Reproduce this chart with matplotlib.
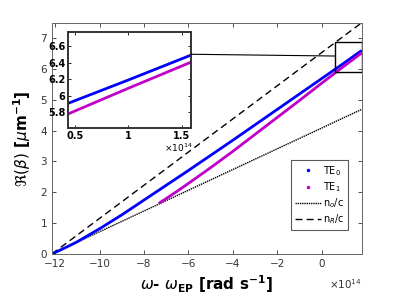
import matplotlib
matplotlib.use("Agg")
import matplotlib.pyplot as plt
from matplotlib.lines import Line2D
from matplotlib.patches import Rectangle, ConnectionPatch

# x in units of 1e14 rad/s, y in 1/um
te0_x = [-12.15, -11.5, -11.0, -10.0, -9.0, -8.0, -7.0, -6.0, -5.0, -4.0, -3.0, -2.0, -1.0, 0.0, 1.0, 1.8]
te0_y = [0.0, 0.22, 0.40, 0.82, 1.27, 1.75, 2.23, 2.71, 3.20, 3.69, 4.19, 4.69, 5.19, 5.69, 6.19, 6.60]
te1_x = [-7.34, -7.0, -6.5, -6.0, -5.0, -4.0, -3.0, -2.0, -1.0, 0.0, 1.0, 1.8]
te1_y = [1.64, 1.80, 2.04, 2.29, 2.80, 3.33, 3.88, 4.43, 4.98, 5.54, 6.09, 6.52]
no_x = [-12.15, 1.8]
no_y = [0.0, 4.69]
nr_x = [-12.15, 1.8]
nr_y = [0.0, 7.5]

xticks = [-12, -10, -8, -6, -4, -2, 0]
yticks = [0, 1, 2, 3, 4, 5, 6, 7]
inset_xticks = [0.5, 1, 1.5]
inset_yticks = [5.8, 6.0, 6.2, 6.4, 6.6]
inset_yticklabels = ["5.8", "6", "6.2", "6.4", "6.6"]
inset_xticklabels = ["0.5", "1", "1.5"]

BLUE = "#0000FF"
MAG = "#C000C8"
TC = "#333333"

fig = plt.figure(figsize=(3.99, 2.99), dpi=100)
ax = fig.add_axes([0.130, 0.1505, 0.7765, 0.7735])

ax.plot(no_x, no_y, color="black", lw=1.0, ls=(0, (1, 0.6)))
ax.plot(nr_x, nr_y, color="black", lw=1.0, ls=(0, (5, 3)))
ax.plot(te0_x, te0_y, color=BLUE, lw=2.0, solid_capstyle="butt")
ax.plot(te1_x, te1_y, color=MAG, lw=2.0, solid_capstyle="butt")

ax.set_xlim(-12.15, 1.8)
ax.set_ylim(0, 7.5)
ax.set_xticks(xticks)
ax.set_yticks(yticks)
ax.tick_params(direction="in", length=3, width=0.6, labelsize=7.5, colors=TC,
               top=True, right=True, labelcolor=TC)
for s in ax.spines.values():
    s.set_color("#666666")
    s.set_linewidth(0.7)

ax.set_xlabel(r"$\omega$- $\omega_{\mathbf{EP}}$ [rad s$^{\mathbf{-1}}$]", fontsize=11,
              fontweight="bold", labelpad=3)
ax.set_ylabel(r"$\Re(\beta)$ [$\mu$m$^{\mathbf{-1}}$]", fontsize=11, fontweight="bold", labelpad=5)
ax.text(1.0, -0.1, r"$\times10^{14}$", transform=ax.transAxes, fontsize=7.5,
        color=TC, ha="right", va="top")

# zoom rectangle
ax.add_patch(Rectangle((0.6, 5.89), 1.2, 0.97, fill=False, edgecolor="black", lw=1.0, zorder=5))

# legend
handles = [
    Line2D([], [], color=BLUE, marker=".", ls="none", markersize=3),
    Line2D([], [], color=MAG, marker=".", ls="none", markersize=3),
    Line2D([], [], color="black", lw=1.0, ls=(0, (1, 0.6))),
    Line2D([], [], color="black", lw=1.0, ls=(0, (5, 3))),
]
labels = [r"TE$_0$", r"TE$_1$", r"n$_o$/c", r"n$_R$/c"]
leg = ax.legend(handles, labels, loc="lower right", bbox_to_anchor=(0.955, 0.105),
                fontsize=7, frameon=True, fancybox=False, edgecolor="#333333",
                markerfirst=True, handlelength=2.7, handletextpad=0.2,
                borderpad=0.35, labelspacing=0.25, borderaxespad=0)
leg.get_frame().set_linewidth(0.8)

# inset
axi = fig.add_axes([0.171, 0.572, 0.307, 0.321])
axi.plot(nr_x, nr_y, color="black", lw=1.5, ls=(0, (5, 3)))
axi.plot(te0_x, te0_y, color=BLUE, lw=2.0)
axi.plot(te1_x, te1_y, color=MAG, lw=2.0)
axi.set_xlim(0.437, 1.584)
axi.set_ylim(5.61, 6.77)
axi.set_xticks(inset_xticks)
axi.set_xticklabels(inset_xticklabels)
axi.set_yticks(inset_yticks)
axi.set_yticklabels(inset_yticklabels)
axi.tick_params(direction="in", length=2.5, width=0.6, labelsize=7, top=True, right=True, pad=2)
for lab in axi.get_xticklabels() + axi.get_yticklabels():
    lab.set_fontweight("bold")
for s in axi.spines.values():
    s.set_color("#333333")
    s.set_linewidth(1.4)
axi.text(1.02, -0.14, r"$\times10^{14}$", transform=axi.transAxes, fontsize=6.5,
         ha="right", va="top", fontweight="bold")

con = ConnectionPatch(xyA=(1.0, 0.768), coordsA=axi.transAxes,
                      xyB=(0.6, 6.42), coordsB=ax.transData,
                      color="black", lw=0.8)
fig.add_artist(con)

fig.savefig("out.png", dpi=100)
